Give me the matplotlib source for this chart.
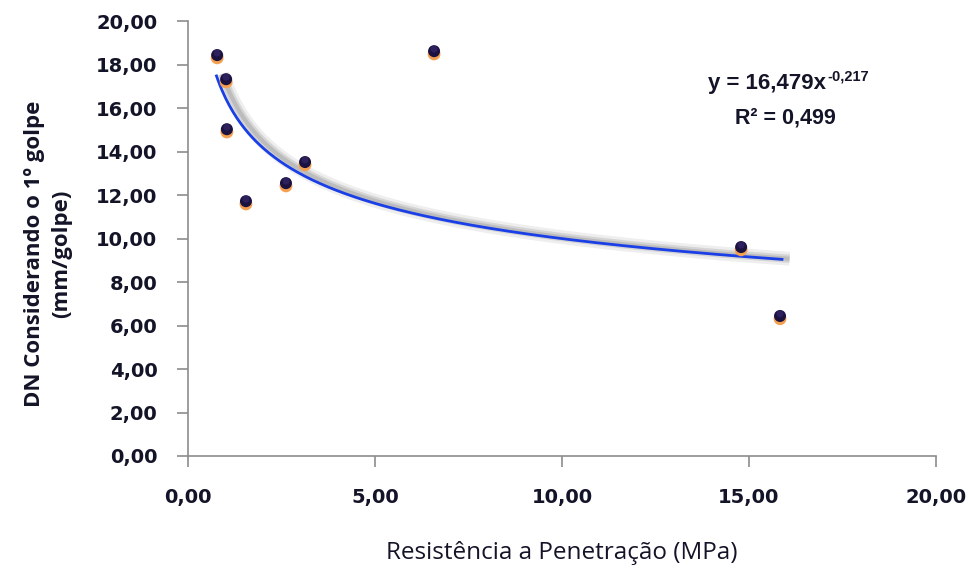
import numpy as np
import matplotlib
matplotlib.use("Agg")
import matplotlib.pyplot as plt
import matplotlib.patheffects as pe
from matplotlib.transforms import ScaledTranslation
from matplotlib.ticker import FuncFormatter

# dados
resistencia = [0.78, 1.02, 1.04, 1.55, 2.62, 3.13, 6.58, 14.79, 15.83]
dn_golpe = [18.44, 17.33, 15.03, 11.72, 12.55, 13.52, 18.62, 9.61, 6.44]

# linha de tendencia (potencia)
coef_a = 16.479
coef_b = -0.217
r2 = 0.499
x_min_tend = 0.75
x_max_tend = 15.92

fig = plt.figure(figsize=(9.76, 5.72), dpi=100)
ax = fig.add_axes([0.1926, 0.2028, 0.959 - 0.1926, 0.963 - 0.2028])

xt = np.linspace(x_min_tend, x_max_tend, 300)
yt = coef_a * xt ** coef_b
ax.plot(xt, yt, color="#1a3fe6", lw=2.0, solid_capstyle="butt", zorder=3,
        path_effects=[
            pe.SimpleLineShadow(offset=(4.5, 0.5), shadow_color="#c8c8c8", alpha=0.3, linewidth=10),
            pe.SimpleLineShadow(offset=(4.5, 0.5), shadow_color="#a8a8a8", alpha=0.35, linewidth=6),
            pe.SimpleLineShadow(offset=(4.5, 0.5), shadow_color="#909090", alpha=0.35, linewidth=3),
            pe.Normal()])

# marcadores: base laranja + esfera escura
dpi_t = fig.dpi_scale_trans
ax.scatter(resistencia, dn_golpe, s=85, color="#f3a050", edgecolors="none",
           transform=ax.transData + ScaledTranslation(0, -2.0 / 72, dpi_t),
           zorder=4, clip_on=False)
ax.scatter(resistencia, dn_golpe, s=75, color="#1c1240", edgecolors="none",
           zorder=5, clip_on=False)
ax.scatter(resistencia, dn_golpe, s=25, color="#3a2a70", edgecolors="none",
           transform=ax.transData + ScaledTranslation(0, 1.5 / 72, dpi_t),
           zorder=6, clip_on=False, alpha=0.6)

ax.set_xlim(0, 20)
ax.set_ylim(0, 20)
ax.set_xticks(np.arange(0, 21, 5))
ax.set_yticks(np.arange(0, 21, 2))
fmt = FuncFormatter(lambda v, p: f"{v:.2f}".replace(".", ","))
ax.xaxis.set_major_formatter(fmt)
ax.yaxis.set_major_formatter(fmt)

for s in ["top", "right"]:
    ax.spines[s].set_visible(False)
for s in ["left", "bottom"]:
    ax.spines[s].set_color("#8c8c8c")
    ax.spines[s].set_linewidth(1.2)
ax.tick_params(axis="both", direction="out", length=8, width=1.2, color="#8c8c8c",
               labelsize=14, labelcolor="#141428")
ax.tick_params(axis="x", pad=15)
ax.tick_params(axis="y", pad=14)
for lab in ax.get_xticklabels() + ax.get_yticklabels():
    lab.set_fontweight("bold")
    lab.set_family("DejaVu Sans")

ax.set_xlabel("Resistência a Penetração (MPa)", fontsize=17.5, family="Open Sans",
              color="#141428", va="top")
ax.xaxis.set_label_coords(0.5, -0.195)
ax.set_ylabel("DN Considerando o 1º golpe\n(mm/golpe)", fontsize=16, family="Open Sans",
              fontweight="bold", color="#141428", linespacing=1.4)
ax.yaxis.set_label_coords(-0.155, 0.465)

# equacao da linha de tendencia
eq_x, eq_y = 17.06, 16.87
ax.text(eq_x, eq_y, f"y = {coef_a:.3f}x".replace(".", ","), ha="right", va="baseline",
        fontsize=16, fontweight="bold", family="Liberation Sans", color="#141428")
ax.annotate(f"{coef_b:.3f}".replace(".", ","), xy=(eq_x, eq_y), xytext=(0.7, 6.0),
            textcoords="offset points", ha="left", va="baseline",
            fontsize=10.5, fontweight="bold", family="Liberation Sans", color="#141428")
ax.text(15.96, 15.31, f"R² = {r2:.3f}".replace(".", ","), ha="center", va="baseline",
        fontsize=15.5, fontweight="bold", family="Liberation Sans", color="#141428")

fig.savefig("out.png", dpi=100)
